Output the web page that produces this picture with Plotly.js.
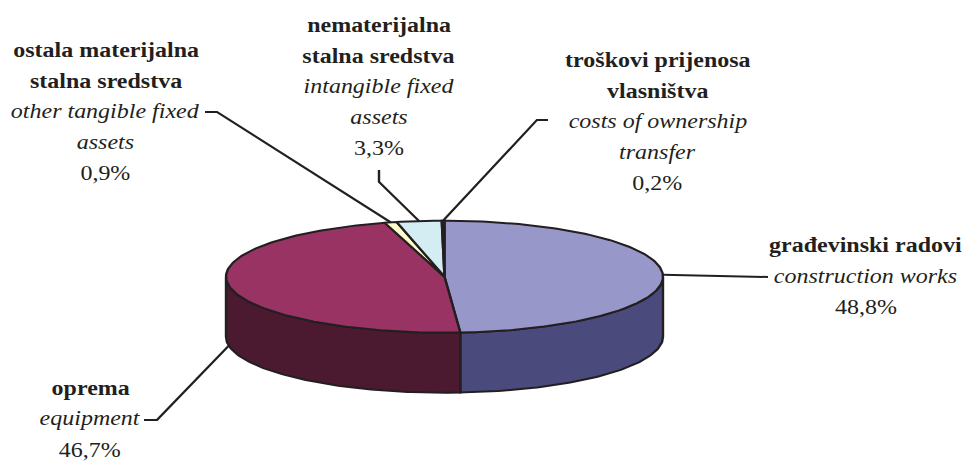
<!DOCTYPE html>
<html><head><meta charset="utf-8">
<script src="https://cdn.plot.ly/plotly-3.0.1.min.js"></script>
<style>
html,body{margin:0;padding:0;background:#fff;overflow:hidden}
#wrap{width:967px;height:461px;overflow:hidden}
#chart{width:806px;height:461px;transform:scaleX(1.19975);transform-origin:0 0}
</style>
</head><body><div id="wrap"><div id="chart"></div></div>
<script>
// ---- data ----
const categories = ['građevinski radovi','oprema','ostala materijalna stalna sredstva','nematerijalna stalna sredstva','troškovi prijenosa vlasništva'];
const categoriesEn = ['construction works','equipment','other tangible fixed assets','intangible fixed assets','costs of ownership transfer'];
const values = [48.8, 46.7, 0.9, 3.3, 0.2];
const valueLabels = ['48,8%','46,7%','0,9%','3,3%','0,2%'];
const labelBold = [['građevinski radovi'],['oprema'],['ostala materijalna','stalna sredstva'],['nematerijalna','stalna sredstva'],['troškovi prijenosa','vlasništva']];
const labelItalic = [['construction works'],['equipment'],['other tangible fixed','assets'],['intangible fixed','assets'],['costs of ownership','transfer']];

// ---- styles / layout geometry ----
const topColors  = ['#9797C9','#983363','#FFFFCC','#D3EDF3','#5A1A5E'];
const sideColors = ['#4A4A7D','#4B1A31','#8C8C70','#6F8B91','#300A30'];
const EDGE = '#231F20';
const CX = 444.5, CY = 276.7, RX = 218.5, RY = 56, DEPTH = 60;
const labelPos = [[866,245],[90,388],[106,50],[379,25],[658,60]];
const LINE_STEP = 30.8;
const leaderBends = [
  [[768,277]],
  [[157,420],[144,420]],
  [[217,112],[205,112]],
  [[379,182],[379,170]],
  [[537,120],[548,120]]
];
const FONT = 'Liberation Serif';

function pt(theta, dy){ const r = theta*Math.PI/180; return [CX + RX*Math.sin(r), CY - RY*Math.cos(r) + (dy||0)]; }
function arc(a, b, dy){ const n = Math.max(2, Math.ceil(Math.abs(b-a)/1)); const out=[]; for(let k=0;k<=n;k++){ out.push(pt(a+(b-a)*k/n, dy)); } return out; }

const total = values.reduce((s,v)=>s+v,0);
const starts=[], ends=[]; let acc=0;
values.forEach(v=>{ starts.push(acc/total*360); acc+=v; ends.push(acc/total*360); });

const traces=[];
values.forEach((v,i)=>{
  const a=Math.max(starts[i],90), b=Math.min(ends[i],270);
  if(a<b){
    const pts = arc(a,b,0).concat(arc(b,a,DEPTH)); pts.push(pts[0]);
    traces.push({type:'scatter',mode:'lines',x:pts.map(p=>p[0]),y:pts.map(p=>p[1]),fill:'toself',fillcolor:sideColors[i],line:{color:EDGE,width:2},hoverinfo:'skip',showlegend:false});
  }
});
values.forEach((v,i)=>{
  const pts=[[CX,CY]].concat(arc(starts[i],ends[i],0)); pts.push([CX,CY]);
  traces.push({type:'scatter',mode:'lines',x:pts.map(p=>p[0]),y:pts.map(p=>p[1]),fill:'toself',fillcolor:topColors[i],line:{color:EDGE,width:2},hoverinfo:'skip',showlegend:false,name:categories[i]});
});
values.forEach((v,i)=>{
  const mid=(starts[i]+ends[i])/2;
  const onSide = mid>90 && mid<270 && i===1;
  const a = pt(mid, onSide?DEPTH*0.98:0);
  const pts=[a].concat(leaderBends[i]);
  traces.push({type:'scatter',mode:'lines',x:pts.map(p=>p[0]),y:pts.map(p=>p[1]),line:{color:EDGE,width:2},hoverinfo:'skip',showlegend:false});
});

const annotations=[];
values.forEach((v,i)=>{
  const lines=[];
  labelBold[i].forEach(t=>lines.push('<b>'+t+'</b>'));
  labelItalic[i].forEach(t=>lines.push('<i>'+t+'</i>'));
  lines.push(valueLabels[i]);
  lines.forEach((t,k)=>{
    annotations.push({x:labelPos[i][0],y:labelPos[i][1]+k*LINE_STEP,xref:'x',yref:'y',text:t,showarrow:false,xanchor:'center',yanchor:'middle',font:{family:FONT,size:20,color:EDGE}});
  });
});

const layout={
  width:806,height:461,margin:{l:0,r:0,t:0,b:0},
  paper_bgcolor:'#fff',plot_bgcolor:'#fff',
  font:{family:FONT},
  xaxis:{range:[0,967],visible:false,fixedrange:true},
  yaxis:{range:[461,0],visible:false,fixedrange:true},
  annotations:annotations,showlegend:false
};
Plotly.newPlot('chart',traces,layout,{displayModeBar:false,staticPlot:true});
</script></body></html>
